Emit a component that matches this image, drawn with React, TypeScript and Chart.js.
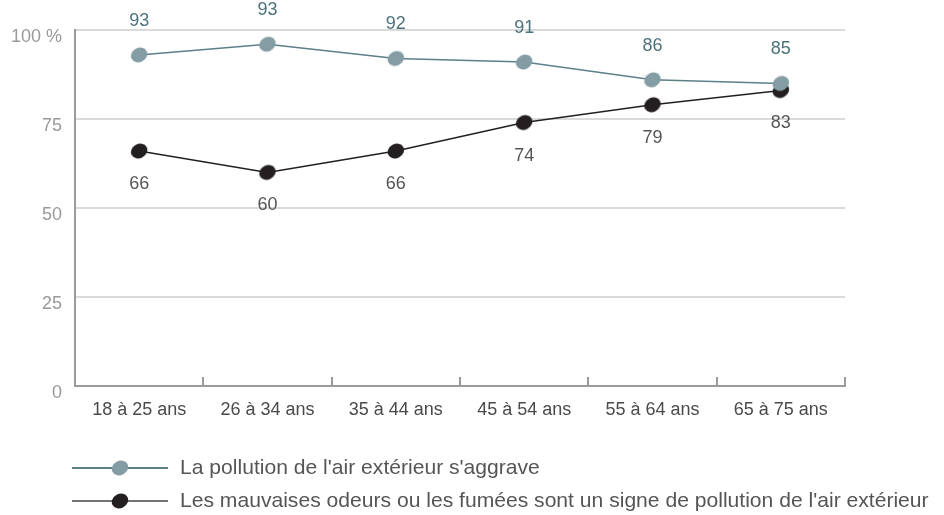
import React, { useEffect, useRef } from "react";
import { Chart, registerables } from "chart.js";

Chart.register(...registerables);

const categories = ["18 à 25 ans", "26 à 34 ans", "35 à 44 ans", "45 à 54 ans", "55 à 64 ans", "65 à 75 ans"];
const seriesANames = "La pollution de l'air extérieur s'aggrave";
const seriesBNames = "Les mauvaises odeurs ou les fumées sont un signe de pollution de l'air extérieur";
const seriesAValues = [93, 96, 92, 91, 86, 85];
const seriesALabels = ["93", "93", "92", "91", "86", "85"];
const seriesBValues = [66, 60, 66, 74, 79, 83];
const seriesBLabels = ["66", "60", "66", "74", "79", "83"];
const yTicks = [0, 25, 50, 75, 100];

const FONT = "'Liberation Sans', Arial, Helvetica, sans-serif";
const TEAL_LINE = "#5c7f88";
const TEAL_FILL = "#849da5";
const TEAL_TEXT = "#4c727c";
const BLACK = "#231f20";

function makeMarkerImg(fill: string): HTMLCanvasElement {
  const c = document.createElement("canvas");
  c.width = 20;
  c.height = 18;
  const ctx = c.getContext("2d")!;
  ctx.fillStyle = fill;
  ctx.beginPath();
  ctx.ellipse(10, 9, 8.5, 7, -0.5, 0, Math.PI * 2);
  ctx.fill();
  return c;
}

export default function App() {
  const ref = useRef<HTMLCanvasElement | null>(null);

  useEffect(() => {
    if (!ref.current) return;
    const markerA = makeMarkerImg(TEAL_FILL);
    const markerB = makeMarkerImg(BLACK);

    const dataLabels = {
      id: "dataLabels",
      afterDatasetsDraw(chart: any) {
        const ctx = chart.ctx;
        ctx.save();
        ctx.font = `18px ${FONT}`;
        ctx.textAlign = "center";
        ctx.textBaseline = "middle";
        const sets = [
          { idx: 0, labels: seriesALabels, off: -34, color: TEAL_TEXT },
          { idx: 1, labels: seriesBLabels, off: 33, color: "#555555" },
        ];
        for (const s of sets) {
          const meta = chart.getDatasetMeta(s.idx);
          ctx.fillStyle = s.color;
          meta.data.forEach((pt: any, i: number) => {
            ctx.fillText(s.labels[i], pt.x, pt.y + s.off);
          });
        }
        ctx.restore();
      },
    };

    const xTicksPlugin = {
      id: "xTicks",
      afterDraw(chart: any) {
        const x = chart.scales.x;
        const ctx = chart.ctx;
        const n = categories.length;
        const step = (x.right - x.left) / n;
        ctx.save();
        ctx.strokeStyle = "#9a9a9a";
        ctx.lineWidth = 2;
        for (let i = 1; i <= n; i++) {
          const px = Math.round(x.left + i * step);
          ctx.beginPath();
          ctx.moveTo(px, x.top);
          ctx.lineTo(px, x.top - 9);
          ctx.stroke();
        }
        ctx.restore();
      },
    };

    const legendPlugin = {
      id: "customLegend",
      afterDraw(chart: any) {
        const ctx = chart.ctx;
        const items = [
          { name: seriesANames, line: TEAL_LINE, lw: 2, marker: markerA, y: 468 },
          { name: seriesBNames, line: "#444444", lw: 1.5, marker: markerB, y: 501 },
        ];
        ctx.save();
        for (const it of items) {
          ctx.strokeStyle = it.line;
          ctx.lineWidth = it.lw;
          ctx.beginPath();
          ctx.moveTo(72, it.y);
          ctx.lineTo(168, it.y);
          ctx.stroke();
          ctx.drawImage(it.marker, 120 - 10, it.y - 9);
          ctx.fillStyle = "#555555";
          ctx.font = `21.1px ${FONT}`;
          ctx.textAlign = "left";
          ctx.textBaseline = "middle";
          ctx.fillText(it.name, 180, it.y);
        }
        ctx.restore();
      },
    };

    const chart = new Chart(ref.current, {
      type: "line",
      data: {
        labels: categories,
        datasets: [
          {
            label: seriesANames,
            data: seriesAValues,
            borderColor: TEAL_LINE,
            borderWidth: 1.5,
            pointStyle: markerA as any,
            pointRadius: 9,
            clip: false as any,
          },
          {
            label: seriesBNames,
            data: seriesBValues,
            borderColor: BLACK,
            borderWidth: 1.5,
            pointStyle: markerB as any,
            pointRadius: 9,
            clip: false as any,
          },
        ],
      },
      options: {
        animation: false,
        responsive: false,
        maintainAspectRatio: false,
        layout: { padding: { top: 30, right: 99, left: 0, bottom: 0 } },
        plugins: { legend: { display: false }, tooltip: { enabled: false } },
        scales: {
          x: {
            type: "category",
            offset: true,
            grid: { display: false, drawTicks: false },
            border: { color: "#9a9a9a", width: 2 },
            ticks: {
              color: "#4a4a4a",
              font: { family: FONT, size: 18 },
              padding: 13,
              maxRotation: 0,
              autoSkip: false,
            },
            afterFit(scale: any) {
              scale.height = 515 - 386;
            },
          },
          y: {
            min: 0,
            max: 100,
            afterBuildTicks(scale: any) {
              scale.ticks = yTicks.map((v) => ({ value: v }));
            },
            grid: { color: "#dadada", lineWidth: 2, drawTicks: false },
            border: { color: "#9a9a9a", width: 2 },
            ticks: {
              color: "#999999",
              font: { family: FONT, size: 18 },
              padding: 13,
              labelOffset: 7,
              callback: (v: any) => (v === 100 ? "100 %" : String(v)),
            },
            afterFit(scale: any) {
              scale.width = 75;
            },
          },
        },
      },
      plugins: [dataLabels, xTicksPlugin, legendPlugin],
    });
    return () => chart.destroy();
  }, []);

  return (
    <div style={{ position: "fixed", left: 0, top: 0, width: 944, height: 515, background: "#fff" }}>
      <canvas ref={ref} width={944} height={515} style={{ width: 944, height: 515 }} />
    </div>
  );
}
